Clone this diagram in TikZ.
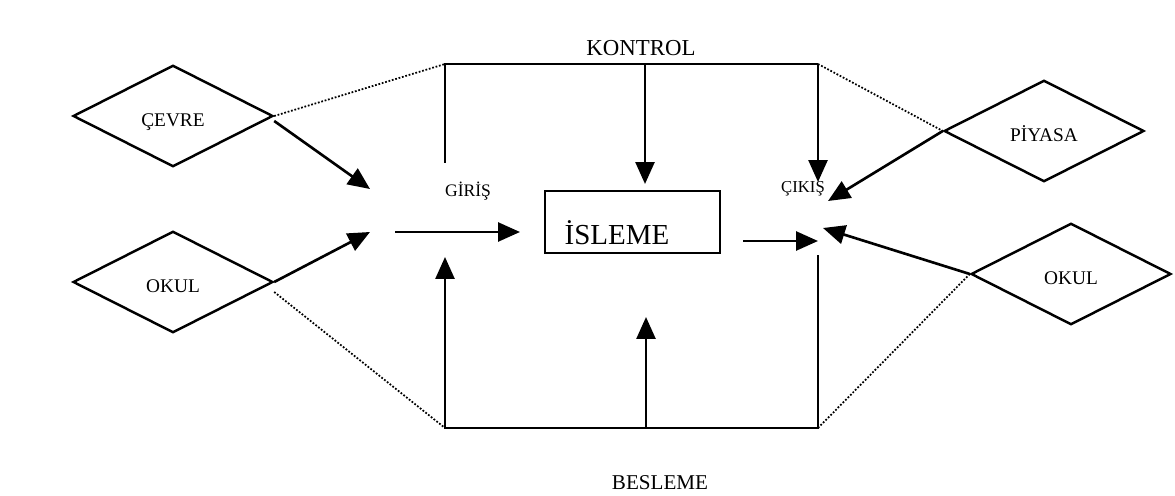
\documentclass[tikz,border=0pt]{standalone}
\usepackage{fontspec}
\setmainfont{Liberation Serif}
\usetikzlibrary{arrows.meta,shapes.geometric}
\begin{document}
\begin{tikzpicture}[x=0.02cm,y=-0.02cm,
	>={Triangle[length=0.44cm,width=0.38cm]},line width=1.5pt,
	dortgen/.style={diamond,draw,line width=1.4pt,minimum width=4cm,
		minimum height=2.03cm,inner sep=0pt,text height=1.2em,text depth=0pt,
		font=\fontsize{11}{13}\selectfont},
	noktali/.style={densely dotted,line width=1pt},
	yazi/.style={inner sep=0pt,font=\fontsize{#1}{#1}\selectfont}]
	\useasboundingbox (0,0) rectangle (1175,496);
	% girdiler ve ciktilar
	\node[dortgen] (cevre) at (173,116) {ÇEVRE};
	\node[dortgen] (okulsol) at (173,282) {OKUL};
	\node[dortgen] (piyasa) at (1044,131) {PİYASA};
	\node[dortgen] (okulsag) at (1071,274) {OKUL};
	% islem kutusu
	\node[draw,line width=1.4pt,minimum width=3.5cm,minimum height=1.24cm]
		(isleme) at (632.5,222) {};
	\node[yazi=16.5] (islemeyazi) at (617,233) {İSLEME};
	\node[yazi=13] (kontrol) at (641,48) {KONTROL};
	\node[yazi=10] (giris) at (468,191) {GİRİŞ};
	\node[yazi=9.5] (cikis) at (803,189) {ÇIKIŞ};
	\node[yazi=12] (besleme) at (660,483) {BESLEME};
	% kontrol ve besleme cercevesi
	\coordinate (k1) at (445,64);
	\coordinate (k2) at (645,64);
	\coordinate (k3) at (818,64);
	\coordinate (b1) at (445,428);
	\coordinate (b2) at (646,428);
	\coordinate (b3) at (818,428);
	\coordinate (g1) at (370,189);
	\coordinate (g2) at (370,232);
	\coordinate (g3) at (395,232);
	\coordinate (g4) at (520,232);
	\coordinate (c1) at (828,201);
	\coordinate (c2) at (823,228);
	\coordinate (c3) at (743,241);
	\coordinate (c4) at (818,241);
	\draw (445,163) -- (k1) -- (k3);
	\draw[->] (k2) -- (645,184);
	\draw[->] (k3) -- (818,182);
	\draw[<-] (445,257) -- (b1) -- (b3) -- (818,255);
	\draw[->] (b2) -- (646,317);
	% oklar
	\draw[->] ([yshift=-0.1cm]cevre.east) -- (g1);
	\draw[->] (okulsol.east) -- (g2);
	\draw[->] (g3) -- (g4);
	\draw[->] (c3) -- (c4);
	\draw[->] (piyasa.west) -- (c1);
	\draw[->] (okulsag.west) -- (c2);
	% noktali baglar
	\draw[noktali] (cevre.east) -- (k1);
	\draw[noktali] ([yshift=-0.2cm]okulsol.east) -- (b1);
	\draw[noktali] (k3) -- (piyasa.west);
	\draw[noktali] (okulsag.west) -- (b3);
\end{tikzpicture}
\end{document}
